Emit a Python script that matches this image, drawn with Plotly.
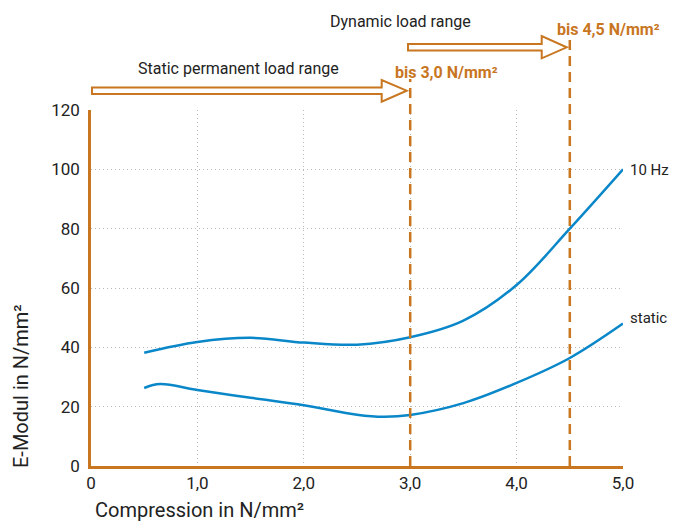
import plotly.graph_objects as go

# ---- data ----
x_10hz = [0.5, 1.0, 1.5, 2.0, 2.5, 3.0, 3.5, 4.0, 4.5, 5.0]
y_10hz = [38.2, 41.8, 43.2, 41.6, 40.9, 43.4, 49.0, 61.0, 80.0, 100.0]

x_static = [0.5, 0.65, 1.0, 1.5, 2.0, 2.5, 2.75, 3.0, 3.5, 4.0, 4.5, 5.0]
y_static = [26.3, 27.6, 25.6, 23.0, 20.5, 17.3, 16.6, 17.2, 21.2, 28.0, 36.4, 48.0]

x_ticks = [0, 1, 2, 3, 4, 5]
x_ticktext = ["0", "1,0", "2,0", "3,0", "4,0", "5,0"]
y_ticks = [0, 20, 40, 60, 80, 100, 120]

limits = [3.0, 4.5]
limit_labels = ["bis 3,0 N/mm²", "bis 4,5 N/mm²"]
series_names = ["10 Hz", "static"]

ORANGE = "#c8761f"
BLUE = "#0a87c8"
TXT = "#222222"
FONT = "Roboto, Open Sans, sans-serif"

OFF = 8  # page body margin
W, H = 677 - 2 * OFF, 531 - 2 * OFF
L, T = 91 - OFF, 110 - OFF
R = (OFF + W) - 623
B = (OFF + H) - 466
PW, PH = W - L - R, H - T - B


def py(p):  # page pixel y -> paper y
    return (H - B - (p - OFF)) / PH


def px(p):  # page pixel x -> paper x
    return (p - OFF - L) / PW


fig = go.Figure()
fig.add_trace(go.Scatter(x=x_10hz, y=y_10hz, mode="lines",
                         line=dict(color=BLUE, width=2.5, shape="spline", smoothing=1.0),
                         name=series_names[0], showlegend=False, hoverinfo="skip"))
fig.add_trace(go.Scatter(x=x_static, y=y_static, mode="lines",
                         line=dict(color=BLUE, width=2.5, shape="spline", smoothing=1.0),
                         name=series_names[1], showlegend=False, hoverinfo="skip"))

shapes = []
tops = [py(79), py(40)]
for xv, top in zip(limits, tops):
    shapes.append(dict(type="line", xref="x", yref="paper", x0=xv, x1=xv, y0=0, y1=top,
                       line=dict(color=ORANGE, width=2.5, dash="10px,6px"), layer="above"))


def arrow(x0, xb, xt, sy0, sy1, hy0, hy1, ty):
    pts = [(x0, sy0), (xb, sy0), (xb, hy0), (xt, ty), (xb, hy1), (xb, sy1), (x0, sy1)]
    d = "M " + " L ".join(f"{px(a):.4f},{py(b):.4f}" for a, b in pts) + " Z"
    return dict(type="path", xref="paper", yref="paper", path=d,
                line=dict(color=ORANGE, width=2), fillcolor="white", layer="above")


shapes.append(arrow(92, 381.7, 406.7, 87.5, 94, 80, 101.7, 90.7))
shapes.append(arrow(408, 541.7, 566.7, 44, 50.5, 36, 58.3, 47.3))

annotations = [
    dict(text="Static permanent load range", x=px(136), y=py(68), xanchor="left", yanchor="middle",
         font=dict(size=16, color=TXT, family=FONT)),
    dict(text="Dynamic load range", x=px(328), y=py(21), xanchor="left", yanchor="middle",
         font=dict(size=16, color=TXT, family=FONT)),
    dict(text="<b>" + limit_labels[0] + "</b>", x=px(393), y=py(73), xanchor="left", yanchor="middle",
         font=dict(size=16, color=ORANGE, family=FONT)),
    dict(text="<b>" + limit_labels[1] + "</b>", x=px(555), y=py(30), xanchor="left", yanchor="middle",
         font=dict(size=16, color=ORANGE, family=FONT)),
    dict(text=series_names[0], x=px(628), y=py(170), xanchor="left", yanchor="middle",
         font=dict(size=15, color=TXT, family=FONT)),
    dict(text=series_names[1], x=px(628), y=py(318), xanchor="left", yanchor="middle",
         font=dict(size=15, color=TXT, family=FONT)),
    dict(text="Compression in N/mm²", x=px(93), y=py(510), xanchor="left", yanchor="middle",
         font=dict(size=20, color=TXT, family=FONT)),
    dict(text="E-Modul in N/mm²", x=px(21), y=py(386), xanchor="center", yanchor="middle",
         textangle=-90, font=dict(size=20, color=TXT, family=FONT)),
]
for a in annotations:
    a.update(xref="paper", yref="paper", showarrow=False)

fig.update_layout(
    width=W, height=H,
    margin=dict(l=L, r=R, t=T, b=B),
    paper_bgcolor="white", plot_bgcolor="white",
    shapes=shapes, annotations=annotations,
    font=dict(family=FONT, color=TXT),
    xaxis=dict(range=[0, 5], tickvals=x_ticks, ticktext=x_ticktext,
               showgrid=True, gridcolor="#b8b8b8", griddash="1px,3px", gridwidth=1,
               showline=True, linecolor=ORANGE, linewidth=2.5, zeroline=False,
               ticks="", tickfont=dict(size=17, color=TXT, family=FONT)),
    yaxis=dict(range=[0, 120], tickvals=y_ticks,
               showgrid=True, gridcolor="#b8b8b8", griddash="1px,3px", gridwidth=1,
               showline=True, linecolor=ORANGE, linewidth=2.5, zeroline=False,
               ticks="", ticklabelstandoff=5, tickfont=dict(size=17, color=TXT, family=FONT)),
)

fig.write_html("out.html")
